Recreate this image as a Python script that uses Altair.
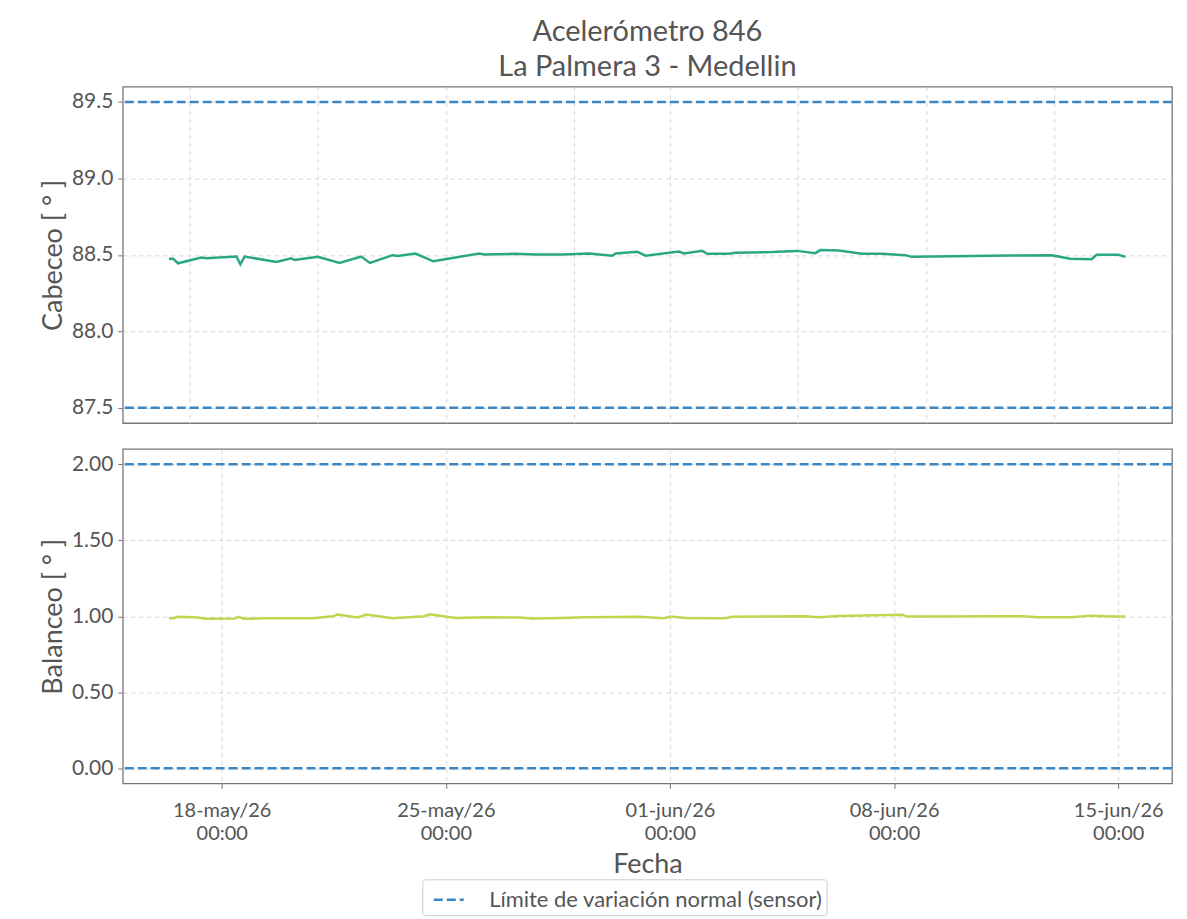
import altair as alt
import pandas as pd

FONT = "Lato"
TXT = "#555555"

top_fecha = [
    "2026-05-16T08:30", "2026-05-16T11:30", "2026-05-16T15:15", "2026-05-17T08:45",
    "2026-05-17T12:30", "2026-05-18T11:00", "2026-05-18T14:00", "2026-05-18T17:10",
    "2026-05-19T17:00", "2026-05-20T04:00", "2026-05-20T06:30", "2026-05-21T00:00",
    "2026-05-21T16:20", "2026-05-22T08:30", "2026-05-22T15:10", "2026-05-23T08:10",
    "2026-05-23T11:50", "2026-05-24T01:10", "2026-05-24T14:40", "2026-05-26T01:00",
    "2026-05-26T04:50", "2026-05-27T03:10", "2026-05-27T19:30", "2026-05-28T15:20",
    "2026-05-29T11:20", "2026-05-30T04:50", "2026-05-30T07:20", "2026-05-30T23:30",
    "2026-05-31T05:50", "2026-06-01T06:40", "2026-06-01T10:30", "2026-06-02T00:10",
    "2026-06-02T03:55", "2026-06-02T20:10", "2026-06-03T01:10", "2026-06-04T04:30",
    "2026-06-04T23:20", "2026-06-05T13:00", "2026-06-05T16:45", "2026-06-06T06:30",
    "2026-06-06T23:55", "2026-06-07T14:55", "2026-06-08T08:25", "2026-06-08T13:20",
    "2026-06-11T16:10", "2026-06-12T22:05", "2026-06-13T11:55", "2026-06-14T04:00",
    "2026-06-14T07:50", "2026-06-15T00:00", "2026-06-15T05:30",
]
top_cabeceo = [
    88.475, 88.475, 88.445, 88.482, 88.478, 88.489, 88.438, 88.489,
    88.454, 88.478, 88.467, 88.487, 88.447, 88.489, 88.447, 88.498,
    88.493, 88.509, 88.458, 88.509, 88.502, 88.507, 88.502, 88.502,
    88.509, 88.495, 88.509, 88.520, 88.495, 88.522, 88.509, 88.526,
    88.507, 88.507, 88.513, 88.518, 88.526, 88.511, 88.531, 88.528,
    88.507, 88.507, 88.498, 88.487, 88.495, 88.498, 88.475, 88.472,
    88.500, 88.500, 88.487,
]

bot_fecha = [
    "2026-05-16T08:30", "2026-05-16T11:05", "2026-05-16T15:15", "2026-05-17T06:10",
    "2026-05-17T11:10", "2026-05-18T09:40", "2026-05-18T12:55", "2026-05-18T16:25",
    "2026-05-19T11:50", "2026-05-20T20:20", "2026-05-21T11:15", "2026-05-21T15:00",
    "2026-05-22T06:00", "2026-05-22T12:15", "2026-05-23T08:10", "2026-05-24T07:50",
    "2026-05-24T11:40", "2026-05-25T07:35", "2026-05-26T06:00", "2026-05-27T07:00",
    "2026-05-27T16:55", "2026-05-28T07:55", "2026-05-29T08:55", "2026-05-31T00:50",
    "2026-05-31T19:30", "2026-06-01T00:30", "2026-06-01T11:45", "2026-06-02T17:40",
    "2026-06-02T22:35", "2026-06-05T05:30", "2026-06-05T15:30", "2026-06-06T06:30",
    "2026-06-08T05:50", "2026-06-08T09:35", "2026-06-11T23:35", "2026-06-12T12:05",
    "2026-06-13T13:05", "2026-06-14T02:50", "2026-06-14T19:00", "2026-06-15T00:00",
    "2026-06-15T05:30",
]
bot_balanceo = [
    0.989, 0.985, 0.996, 0.992, 0.983, 0.985, 0.996, 0.983,
    0.987, 0.987, 1.000, 1.011, 0.992, 1.011, 0.987, 1.000,
    1.013, 0.989, 0.993, 0.991, 0.985, 0.987, 0.993, 0.996,
    0.987, 0.998, 0.989, 0.987, 0.996, 1.000, 0.993, 1.002,
    1.009, 0.998, 1.000, 0.993, 0.993, 1.004, 0.998, 0.998,
    0.998,
]

limites_cabeceo = [87.5, 89.5]
limites_balanceo = [0.0, 2.0]
leyenda = "Límite de variación normal (sensor)"

top_ticks = [(5, 17), (5, 21), (5, 25), (5, 29), (6, 1), (6, 5), (6, 9), (6, 13)]
bot_ticks = [(5, 18), (5, 25), (6, 1), (6, 8), (6, 15)]

df_top = pd.DataFrame({"fecha": top_fecha, "valor": top_cabeceo})
df_bot = pd.DataFrame({"fecha": bot_fecha, "valor": bot_balanceo})
df_lim_top = pd.DataFrame({"valor": limites_cabeceo, "serie": [leyenda] * 2})
df_lim_bot = pd.DataFrame({"valor": limites_balanceo, "serie": [leyenda] * 2})

xscale = alt.Scale(domain=[alt.DateTime(year=2026, month=5, date=14, hours=21, minutes=52),
                           alt.DateTime(year=2026, month=6, date=16, hours=16, minutes=20)])

GRID = dict(grid=True, gridDash=[4, 4], gridColor="#d5d5d5", gridWidth=1)

W = 1051
BLUE = "#3a87c8"

top_x_axis = alt.Axis(values=[alt.DateTime(year=2026, month=m, date=d) for m, d in top_ticks],
                      labels=False, ticks=False, domain=False, title=None, **GRID)
bot_x_axis = alt.Axis(values=[alt.DateTime(year=2026, month=m, date=d) for m, d in bot_ticks],
                      labelExpr="[timeFormat(datum.value, '%d-') + lower(timeFormat(datum.value, '%b')) + timeFormat(datum.value, '/%y'), timeFormat(datum.value, '%H:%M')]",
                      labelFontSize=20, labelLineHeight=23, labelPadding=12, tickSize=5,
                      tickColor="#777", titleFontSize=27, titlePadding=8, domain=False,
                      labelColor=TXT, titleColor=TXT, titleFontWeight="normal", **GRID)

top_line = alt.Chart(df_top).mark_line(color="#2aa784", strokeWidth=2.5).encode(
    x=alt.X("fecha:T", scale=xscale, axis=top_x_axis, title=None),
    y=alt.Y("valor:Q", scale=alt.Scale(domain=[87.4, 89.6], nice=False, zero=False),
            axis=alt.Axis(values=[87.5, 88.0, 88.5, 89.0, 89.5], format=".1f", **GRID),
            title="Cabeceo [ ° ]"),
)
top_rule = alt.Chart(df_lim_top).mark_rule(strokeDash=[9, 4], strokeWidth=2.5).encode(
    y="valor:Q",
    color=alt.Color("serie:N", scale=alt.Scale(domain=[leyenda], range=[BLUE]), legend=None),
)
top = alt.layer(top_line, top_rule).properties(
    width=W, height=337,
    title=alt.TitleParams(["Acelerómetro 846", "La Palmera 3 - Medellin"], fontSize=29,
                          lineHeight=35, font=FONT, color=TXT, fontWeight="normal",
                          anchor="middle", frame="group", offset=5),
)

bot_line = alt.Chart(df_bot).mark_line(color="#c3d44e", strokeWidth=2.5).encode(
    x=alt.X("fecha:T", scale=xscale, axis=bot_x_axis, title="Fecha"),
    y=alt.Y("valor:Q", scale=alt.Scale(domain=[-0.1, 2.1], nice=False, zero=False),
            axis=alt.Axis(values=[0.0, 0.5, 1.0, 1.5, 2.0], format=".2f", **GRID),
            title="Balanceo [ ° ]"),
)
bot_rule = alt.Chart(df_lim_bot).mark_rule(strokeDash=[9, 4], strokeWidth=2.5).encode(
    y="valor:Q",
    color=alt.Color("serie:N", scale=alt.Scale(domain=[leyenda], range=[BLUE]),
                    legend=alt.Legend(title=None, orient="none", legendX=300, legendY=431,
                                      symbolType="stroke", symbolStrokeWidth=2.5,
                                      symbolDash=[9, 4], symbolSize=900, symbolOffset=6,
                                      labelFontSize=22, labelColor=TXT, labelFont=FONT,
                                      labelLimit=600, labelOffset=24,
                                      strokeColor="#cccccc", fillColor="white",
                                      padding=4, cornerRadius=3)),
)
bot = alt.layer(bot_line, bot_rule).properties(width=W, height=335)

chart = alt.vconcat(top, bot, spacing=24).resolve_scale(
    color="independent", x="independent", y="independent"
).resolve_legend(color="independent").properties(
    padding={"left": 30, "top": 8, "right": 5, "bottom": 2}
).configure_view(
    stroke="#777777", strokeWidth=1.3
).configure_axis(
    labelFont=FONT, titleFont=FONT, labelColor=TXT, titleColor=TXT,
    labelFontSize=21, titleFontSize=27, titleFontWeight="normal",
    domain=False, tickColor="#777", tickSize=5, labelPadding=5, titlePadding=4,
)

chart.save("out.html", embed_options={"renderer": "svg", "actions": False})
